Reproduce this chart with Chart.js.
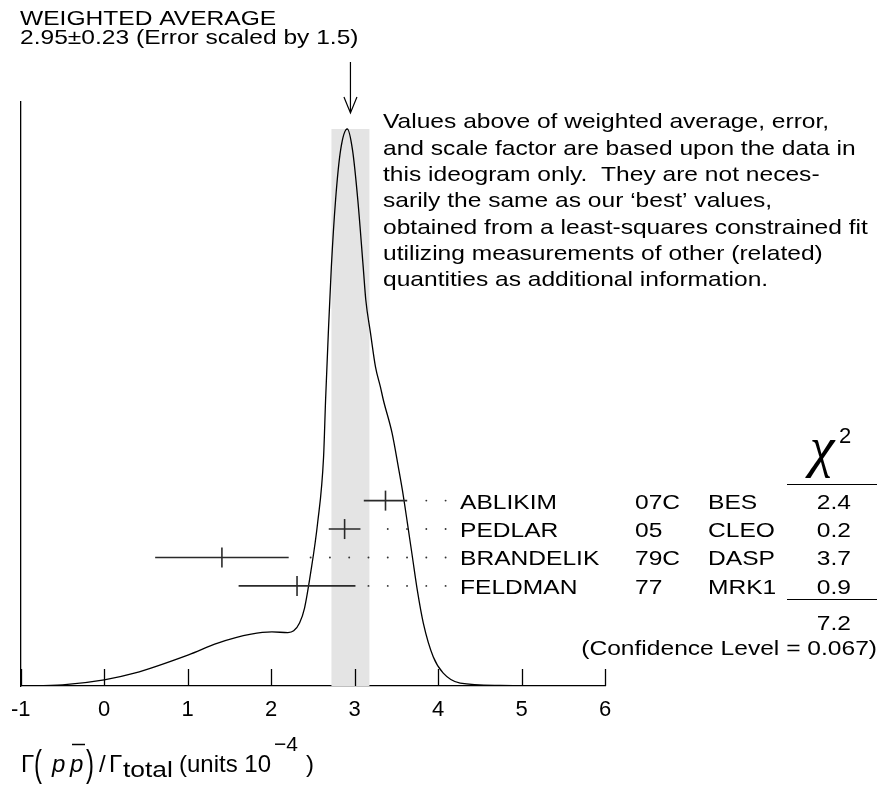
<!DOCTYPE html>
<html><head><meta charset="utf-8">
<script src="https://cdn.jsdelivr.net/npm/chart.js@4.4.1/dist/chart.umd.min.js"></script>
<style>html,body{margin:0;padding:0;background:#fff;}canvas{display:block;}</style>
</head><body>
<canvas id="c" width="878" height="793"></canvas>
<script>
// ---- data ----
const curveX = [-1.0, -0.5, 0.0, 0.36, 1.01, 1.36, 1.76, 2.01, 2.20, 2.27, 2.34, 2.40, 2.473, 2.557, 2.628, 2.652, 2.685, 2.721, 2.772, 2.832, 2.912, 2.975, 3.038, 3.103, 3.134, 3.190, 3.250, 3.309, 3.345, 3.449, 3.524, 3.572, 3.632, 3.692, 3.751, 3.823, 3.943, 4.062, 4.265, 4.743, 6.0];
const curveY = [0, 0.002, 0.011, 0.023, 0.056, 0.077, 0.093, 0.097, 0.096, 0.099, 0.113, 0.140, 0.203, 0.293, 0.411, 0.513, 0.634, 0.752, 0.873, 0.962, 1.0, 0.962, 0.873, 0.752, 0.693, 0.634, 0.573, 0.537, 0.513, 0.454, 0.393, 0.352, 0.293, 0.232, 0.172, 0.113, 0.052, 0.023, 0.005, 0.001, 0];
const avgValue = 2.95;
const avgError = 0.23;
const errorScale = 1.5;
const names = ['ABLIKIM', 'PEDLAR', 'BRANDELIK', 'FELDMAN'];
const years = ['07C', '05', '79C', '77'];
const experiments = ['BES', 'CLEO', 'DASP', 'MRK1'];
const values = [3.37, 2.88, 1.41, 2.31];
const errors = [0.26, 0.19, 0.80, 0.70];
const chi2 = ['2.4', '0.2', '3.7', '0.9'];
const chi2Total = '7.2';
const confidenceLevel = '0.067';
const xTickValues = [-1, 0, 1, 2, 3, 4, 5, 6];
const noteLines = [
  'Values above of weighted average, error,',
  'and scale factor are based upon the data in',
  'this ideogram only.  They are not neces-',
  'sarily the same as our \u2018best\u2019 values,',
  'obtained from a least-squares constrained fit',
  'utilizing measurements of other (related)',
  'quantities as additional information.'
];

const SANS = '"Liberation Sans", Arial, sans-serif';
const SX = 1.17;
function txt(ctx, s, x, y, size, align, sx, family, style) {
  ctx.save();
  ctx.translate(x, y);
  ctx.scale(sx, 1);
  ctx.font = (style ? style + ' ' : '') + size + 'px ' + (family || SANS);
  ctx.textAlign = align || 'left';
  ctx.textBaseline = 'alphabetic';
  ctx.fillStyle = '#000';
  ctx.fillText(s, 0, 0);
  ctx.restore();
}

const annot = {
  id: 'annot',
  afterDatasetsDraw(chart) {
    const ctx = chart.ctx, xs = chart.scales.x, rs = chart.scales.rows;
    ctx.save();
    ctx.strokeStyle = '#2a2a2a';
    ctx.lineWidth = 1.6;
    values.forEach((v, i) => {
      const y = rs.getPixelForValue(i);
      ctx.beginPath();
      ctx.moveTo(xs.getPixelForValue(v - errors[i]), y);
      ctx.lineTo(xs.getPixelForValue(v + errors[i]), y);
      ctx.stroke();
      ctx.fillStyle = '#333';
      for (let k = 0; k < 30; k++) {
        const dv = 4.09 - 0.231 * k;
        if (dv <= v + errors[i] + 0.12) break;
        ctx.beginPath();
        ctx.arc(xs.getPixelForValue(dv), y, 0.95, 0, Math.PI * 2);
        ctx.fill();
      }
    });
    ctx.restore();
  },
  afterDraw(chart) {
    const ctx = chart.ctx, xs = chart.scales.x, ys = chart.scales.y, rs = chart.scales.rows;
    const base = ys.getPixelForValue(0);
    ctx.save();
    ctx.strokeStyle = '#000';
    ctx.lineWidth = 1.3;
    xs.ticks.forEach(t => {
      const x = Math.round(xs.getPixelForValue(t.value)) + 0.5;
      ctx.beginPath();
      ctx.moveTo(x, base);
      ctx.lineTo(x, base - 17);
      ctx.stroke();
    });
    const ax = xs.getPixelForValue(avgValue);
    ctx.lineWidth = 1.2;
    ctx.beginPath();
    ctx.moveTo(ax, 62); ctx.lineTo(ax, 113);
    ctx.moveTo(ax - 6.5, 97); ctx.lineTo(ax, 113); ctx.lineTo(ax + 6.5, 97);
    ctx.stroke();
    txt(ctx, 'WEIGHTED AVERAGE', 20, 25, 21, 'left', SX);
    txt(ctx, avgValue.toFixed(2) + '\u00b1' + avgError.toFixed(2) + ' (Error scaled by ' + errorScale + ')', 20, 43.5, 21, 'left', SX);
    noteLines.forEach((s, i) => txt(ctx, s, 383, 128.3 + i * 26.3, 21, 'left', SX));
    // chi2 header
    txt(ctx, '\u03c7', 822, 466, 56, 'center', 1, '"Liberation Serif", serif', 'italic');
    txt(ctx, '2', 839, 443, 22, 'left', 1);
    ctx.lineWidth = 1.2;
    const l1 = Math.round(rs.getPixelForValue(-0.58)) + 0.5, l2 = Math.round(rs.getPixelForValue(3.47)) + 0.5;
    ctx.beginPath();
    ctx.moveTo(787, l1); ctx.lineTo(877, l1);
    ctx.moveTo(787, l2); ctx.lineTo(877, l2);
    ctx.stroke();
    names.forEach((n, i) => {
      const y = rs.getPixelForValue(i) + 8;
      txt(ctx, n, 460, y, 21, 'left', SX);
      txt(ctx, years[i], 635, y, 21, 'left', SX);
      txt(ctx, experiments[i], 708, y, 21, 'left', SX);
      txt(ctx, chi2[i], 851, y, 21, 'right', SX);
    });
    txt(ctx, chi2Total, 851, rs.getPixelForValue(4.27) + 8, 21, 'right', SX);
    txt(ctx, '(Confidence Level = ' + confidenceLevel + ')', 877, rs.getPixelForValue(5.14) + 8, 21, 'right', SX);
    // axis title
    const by = 772;
    txt(ctx, '\u0393', 21, by, 24, 'left', 1);
    ctx.save(); ctx.translate(34, 776); ctx.scale(1, 1.55); txt(ctx, '(', 0, 0, 24, 'left', 1); ctx.restore();
    txt(ctx, 'p', 52, by, 24, 'left', 1, SANS, 'italic');
    txt(ctx, 'p', 70, by, 24, 'left', 1, SANS, 'italic');
    ctx.lineWidth = 1.5;
    ctx.beginPath(); ctx.moveTo(72, 744.5); ctx.lineTo(85, 744.5); ctx.stroke();
    ctx.save(); ctx.translate(86, 776); ctx.scale(1, 1.55); txt(ctx, ')', 0, 0, 24, 'left', 1); ctx.restore();
    txt(ctx, '/', 99, by, 24, 'left', 1);
    txt(ctx, '\u0393', 109, by, 24, 'left', 1);
    txt(ctx, 'total', 123, 777, 22, 'left', 1.2);
    txt(ctx, '(units 10', 179, by, 24, 'left', 1);
    txt(ctx, '\u22124', 274, 751, 21, 'left', 1);
    txt(ctx, ')', 306, by, 24, 'left', 1);
    ctx.restore();
  }
};

const peak = Math.max(...curveY);
new Chart(document.getElementById('c'), {
  type: 'line',
  data: {
    datasets: [
      {
        label: 'measurements',
        showLine: false,
        data: values.map((v, i) => ({x: v, y: i})),
        yAxisID: 'rows',
        pointStyle: 'line',
        rotation: 90,
        pointRadius: 10,
        pointBorderWidth: 1.6,
        pointBorderColor: '#2a2a2a',
        pointBackgroundColor: '#2a2a2a',
        borderColor: '#2a2a2a',
        clip: false,
        order: 0
      },
      {
        label: 'ideogram',
        data: curveX.map((x, i) => ({x, y: curveY[i]})),
        yAxisID: 'y',
        borderColor: '#000',
        borderWidth: 1.3,
        pointRadius: 0,
        cubicInterpolationMode: 'monotone',
        fill: false,
        order: 1
      },
      {
        label: 'band',
        data: [{x: avgValue - avgError, y: peak}, {x: avgValue + avgError, y: peak}],
        yAxisID: 'y',
        borderWidth: 0,
        borderColor: 'rgba(0,0,0,0)',
        backgroundColor: '#e4e4e4',
        pointRadius: 0,
        fill: 'origin',
        tension: 0,
        order: 2
      }
    ]
  },
  options: {
    responsive: false,
    animation: false,
    devicePixelRatio: 1,
    layout: {padding: {left: 19, right: 273, top: 102, bottom: 0}},
    plugins: {legend: {display: false}, tooltip: {enabled: false}},
    scales: {
      x: {
        type: 'linear', min: -1, max: 6,
        afterBuildTicks: s => { s.ticks = xTickValues.map(v => ({value: v})); },
        ticks: {color: '#000', font: {family: 'Liberation Sans', size: 22}, padding: 11, maxRotation: 0},
        grid: {display: false, drawTicks: false},
        border: {display: true, color: '#000', width: 1.3},
        afterFit: s => { s.height = 107; }
      },
      y: {
        type: 'linear', min: 0, max: 1.0485, position: 'left',
        ticks: {display: false},
        grid: {display: false, drawTicks: false},
        border: {display: true, color: '#000', width: 1.3},
        afterFit: s => { s.width = 0; }
      },
      rows: {
        type: 'linear', position: 'left', reverse: true, min: -14.02, max: 6.52,
        ticks: {display: false},
        grid: {display: false, drawTicks: false},
        border: {display: false},
        afterFit: s => { s.width = 0; }
      }
    }
  },
  plugins: [annot]
});
</script>
</body></html>
